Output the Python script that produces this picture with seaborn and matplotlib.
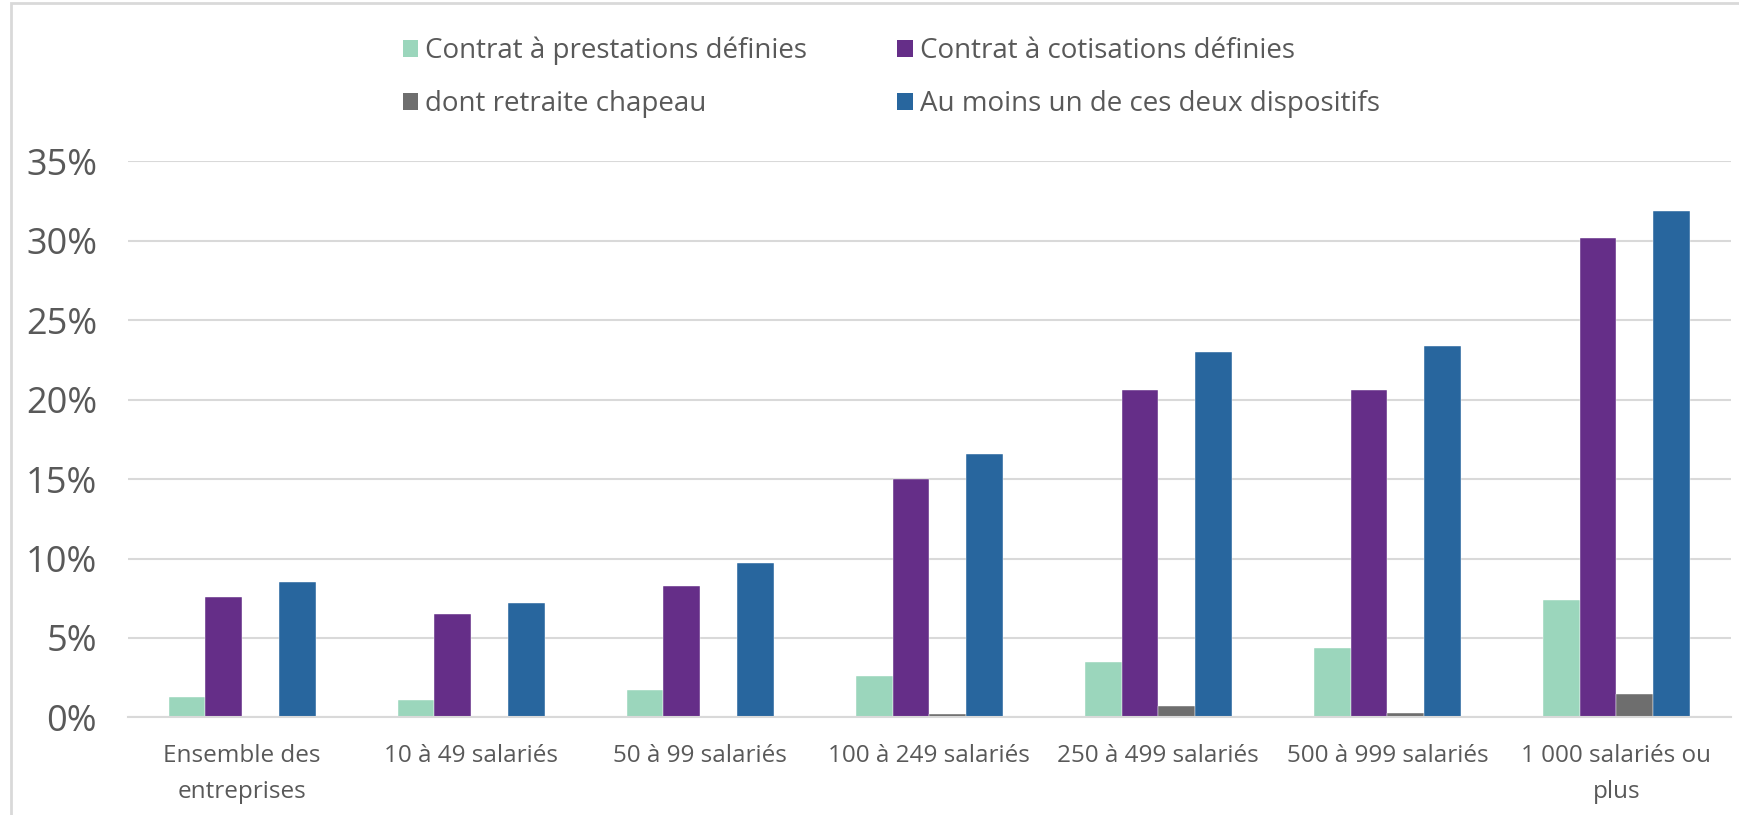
import matplotlib
matplotlib.use("Agg")
import matplotlib.pyplot as plt
import matplotlib.patches as mpatches
from matplotlib.ticker import FuncFormatter
import pandas as pd
import seaborn as sns

categories = [
    "Ensemble des\nentreprises",
    "10 à 49 salariés",
    "50 à 99 salariés",
    "100 à 249 salariés",
    "250 à 499 salariés",
    "500 à 999 salariés",
    "1 000 salariés ou\nplus",
]
series = [
    "Contrat à prestations définies",
    "Contrat à cotisations définies",
    "dont retraite chapeau",
    "Au moins un de ces deux dispositifs",
]
prestations = [1.3, 1.1, 1.7, 2.6, 3.5, 4.4, 7.4]
cotisations = [7.6, 6.5, 8.3, 15.0, 20.6, 20.6, 30.2]
chapeau = [0.1, 0.05, 0.1, 0.2, 0.7, 0.3, 1.5]
au_moins_un = [8.5, 7.2, 9.7, 16.6, 23.0, 23.4, 31.9]
yticks = [0, 5, 10, 15, 20, 25, 30, 35]
colors = ["#9BD6BC", "#652E88", "#6E6E6E", "#28669E"]

rows = []
for name, vals in zip(series, [prestations, cotisations, chapeau, au_moins_un]):
    for cat, v in zip(categories, vals):
        rows.append({"categorie": cat, "serie": name, "valeur": v})
df = pd.DataFrame(rows)

sns.set_theme(style="white")
plt.rcParams["font.family"] = ["Open Sans", "DejaVu Sans"]
text_color = "#595959"

fig = plt.figure(figsize=(17.4, 8.15), dpi=100)
ax = fig.add_axes([127.6 / 1740, 97.6 / 815, (1731 - 127.6) / 1740, (717.4 - 161.4) / 815])

sns.barplot(data=df, x="categorie", y="valeur", hue="serie", order=categories,
            hue_order=series, palette=colors, width=0.642, ax=ax,
            edgecolor="white", linewidth=0.3, legend=False, saturation=1)

ax.set_ylim(0, 35)
ax.set_yticks(yticks)
ax.yaxis.set_major_formatter(FuncFormatter(lambda v, p: f"{v:.0f}%"))
ax.grid(axis="y", color="#D9D9D9", linewidth=1.5)
ax.set_axisbelow(True)
for s in ["top", "right", "left"]:
    ax.spines[s].set_visible(False)
ax.spines["bottom"].set_color("#D9D9D9")
ax.spines["bottom"].set_linewidth(1.5)
ax.tick_params(axis="y", length=0, pad=22, labelsize=26, labelcolor=text_color)
ax.tick_params(axis="x", length=0, pad=19.5, labelsize=17.5, labelcolor=text_color)
for lbl in ax.get_xticklabels():
    lbl.set_linespacing(1.65)
ax.set_xlabel("")
ax.set_ylabel("")

# legend filled row by row: two entries per row
handles = [mpatches.Patch(facecolor=c, edgecolor="none") for c in colors]
order = [0, 2, 1, 3]
fig.legend([handles[i] for i in order], [series[i] for i in order],
           loc="upper left", bbox_to_anchor=(389 / 1740, 1 - 23 / 815),
           ncol=2, frameon=False, fontsize=20, handlelength=0.55, handleheight=0.55,
           handletextpad=0.25, columnspacing=3.25, labelspacing=0.9, borderpad=0,
           labelcolor=text_color)

# chart area border
fig.patches.append(mpatches.Rectangle((11 / 1740, -0.1), 1.2, 1 - 3 / 815 + 0.1,
                                      transform=fig.transFigure, fill=False,
                                      edgecolor="#D9D9D9", linewidth=2))

fig.savefig("out.png", dpi=100)
